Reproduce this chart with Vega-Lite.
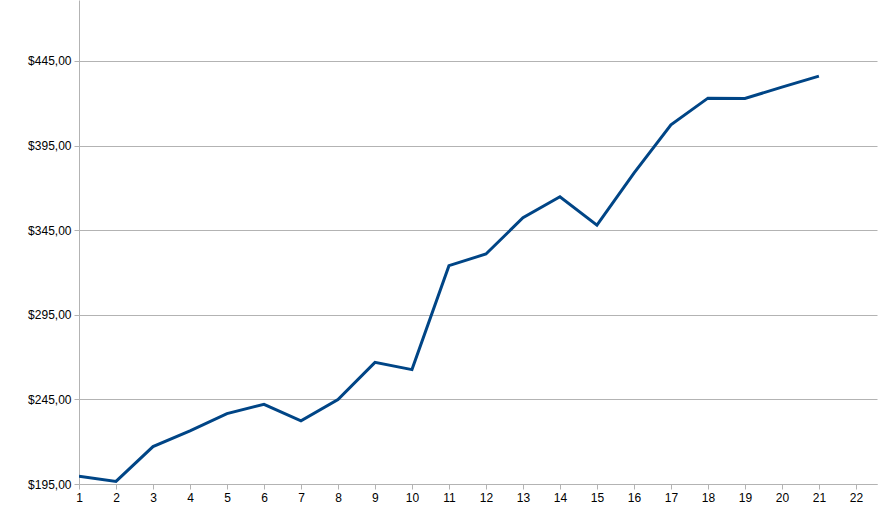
{
  "$schema": "https://vega.github.io/schema/vega-lite/v6.json",
  "width": 798,
  "height": 484,
  "autosize": "none",
  "padding": {"left": 79, "top": 0, "right": 1, "bottom": 41},
  "background": "white",
  "config": {"view": {"stroke": null}},
  "data": {
    "values": [
      {"x": 1, "y": 199.6},
      {"x": 2, "y": 196.5},
      {"x": 3, "y": 217.1},
      {"x": 4, "y": 226.4},
      {"x": 5, "y": 236.6},
      {"x": 6, "y": 242.1},
      {"x": 7, "y": 232.3},
      {"x": 8, "y": 244.9},
      {"x": 9, "y": 266.9},
      {"x": 10, "y": 262.6},
      {"x": 11, "y": 324.0},
      {"x": 12, "y": 330.9},
      {"x": 13, "y": 352.3},
      {"x": 14, "y": 364.7},
      {"x": 15, "y": 348.0},
      {"x": 16, "y": 378.7},
      {"x": 17, "y": 407.2},
      {"x": 18, "y": 423.0},
      {"x": 19, "y": 422.8},
      {"x": 20, "y": 429.5},
      {"x": 21, "y": 436.0}
    ]
  },
  "mark": {"type": "line", "color": "#004586", "strokeWidth": 3, "clip": true},
  "encoding": {
    "x": {
      "field": "x",
      "type": "quantitative",
      "scale": {"domain": [1, 22.57], "nice": false, "zero": false},
      "axis": {
        "title": null,
        "values": [1,2,3,4,5,6,7,8,9,10,11,12,13,14,15,16,17,18,19,20,21,22],
        "grid": false,
        "domainColor": "#b3b3b3",
        "domainWidth": 1,
        "tickColor": "#b3b3b3",
        "tickSize": 5,
        "labelFont": "Liberation Sans",
        "labelFontSize": 12,
        "labelColor": "#000000",
        "labelPadding": 3,
        "labelFlush": false,
        "labelOverlap": false
      }
    },
    "y": {
      "field": "y",
      "type": "quantitative",
      "scale": {"domain": [195, 481], "nice": false, "zero": false},
      "axis": {
        "title": null,
        "values": [195, 245, 295, 345, 395, 445],
        "grid": true,
        "gridColor": "#b3b3b3",
        "gridWidth": 1,
        "domainColor": "#b3b3b3",
        "domainWidth": 1,
        "tickColor": "#b3b3b3",
        "tickSize": 5,
        "labelFont": "Liberation Sans",
        "labelFontSize": 12,
        "labelColor": "#000000",
        "labelPadding": 3,
        "labelExpr": "'$' + replace(format(datum.value, '.2f'), '.', ',')"
      }
    }
  }
}
